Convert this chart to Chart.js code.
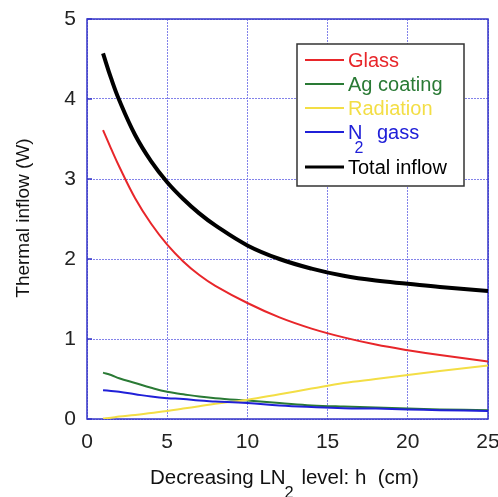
<!DOCTYPE html>
<html>
<head>
<meta charset="utf-8">
<script src="https://cdn.jsdelivr.net/npm/chart.js@4/dist/chart.umd.min.js"></script>
<style>
  html, body { margin: 0; padding: 0; background: #ffffff; }
  canvas { display: block; }
</style>
</head>
<body>
<canvas id="c" width="498" height="497"></canvas>
<script>
// Liquid-nitrogen level h (cm) at which each component was evaluated
const levels      = [1, 1.5, 2, 3, 4, 5, 6, 7, 8, 10, 12, 14, 16, 18, 20, 22, 25];
// Heat inflow components (W)
const glass       = [3.61, 3.38, 3.16, 2.76, 2.44, 2.18, 1.97, 1.80, 1.665, 1.45, 1.27, 1.13, 1.02, 0.93, 0.86, 0.80, 0.72];
const agCoating   = [0.58, 0.55, 0.51, 0.45, 0.39, 0.34, 0.31, 0.28, 0.26, 0.23, 0.20, 0.17, 0.155, 0.145, 0.13, 0.12, 0.11];
const radiation   = [0.005, 0.015, 0.03, 0.05, 0.075, 0.10, 0.13, 0.16, 0.19, 0.24, 0.31, 0.38, 0.45, 0.50, 0.55, 0.60, 0.67];
const n2Gas       = [0.36, 0.35, 0.34, 0.31, 0.28, 0.26, 0.25, 0.23, 0.22, 0.20, 0.17, 0.15, 0.135, 0.13, 0.12, 0.11, 0.10];
const totalInflow = [4.57, 4.26, 3.99, 3.55, 3.22, 2.96, 2.75, 2.57, 2.42, 2.17, 2.00, 1.88, 1.79, 1.73, 1.69, 1.65, 1.60];

const xTicks = [0, 5, 10, 15, 20, 25];
const yTicks = [0, 1, 2, 3, 4, 5];

// Legend entries: text runs [text, isSubscript], colour, line width
const legendItems = [
  { parts: [['Glass', false]],                 color: '#e8262a', width: 2 },
  { parts: [['Ag coating', false]],            color: '#2a7a35', width: 2 },
  { parts: [['Radiation', false]],             color: '#f3de45', width: 2 },
  { parts: [['N', false], ['2', true], [' gass', false]], color: '#2020d8', width: 2 },
  { parts: [['Total inflow', false]],          color: '#000000', width: 3 }
];

const FONT = '"Liberation Sans", Arial, Helvetica, sans-serif';
const GRID = '#8282ea';

function pts(ys) { return levels.map((x, i) => ({ x: x, y: ys[i] })); }

function series(label, ys, color, width, order) {
  return {
    label: label, data: pts(ys), borderColor: color, backgroundColor: color,
    borderWidth: width, pointRadius: 0, showLine: true, fill: false,
    tension: 0.4, order: order
  };
}

// Draws text made of normal and subscript runs, starting at x.
// subShift moves a subscript back under the preceding letter; subGap is the
// space left after it.
function drawRuns(ctx, parts, x, y, size, color, subShift, subDrop, subGap) {
  ctx.fillStyle = color;
  ctx.textAlign = 'left';
  ctx.textBaseline = 'middle';
  for (const [t, sub] of parts) {
    if (sub) {
      ctx.font = (size * 0.8) + 'px ' + FONT;
      const sx = x - subShift;
      ctx.fillText(t, sx, y + subDrop);
      x = Math.max(x, sx + ctx.measureText(t).width) + subGap;
    } else {
      ctx.font = size + 'px ' + FONT;
      ctx.fillText(t, x, y);
      x += ctx.measureText(t).width;
    }
  }
  return x;
}

const decorations = {
  id: 'decorations',
  beforeDatasetsDraw(chart) {
    const { ctx, chartArea: a } = chart;
    ctx.save();
    ctx.strokeStyle = '#3434c8';
    ctx.lineWidth = 1.5;
    ctx.strokeRect(a.left, a.top, a.right - a.left, a.bottom - a.top);
    // short inward tick marks on the left edge
    const ys = chart.scales.y;
    for (const v of yTicks) {
      const py = ys.getPixelForValue(v);
      ctx.beginPath();
      ctx.moveTo(a.left, py);
      ctx.lineTo(a.left + 5, py);
      ctx.stroke();
    }
    ctx.restore();
  },
  afterDraw(chart) {
    const { ctx, chartArea: a } = chart;
    ctx.save();
    // y-axis title
    ctx.translate(24, (a.top + a.bottom) / 2 - 1);
    ctx.rotate(-Math.PI / 2);
    ctx.fillStyle = '#111111';
    ctx.font = '19px ' + FONT;
    ctx.textAlign = 'center';
    ctx.textBaseline = 'middle';
    ctx.fillText('Thermal inflow (W)', 0, 0);
    ctx.restore();

    // x-axis title with subscript
    ctx.save();
    const titleParts = [['Decreasing LN', false], ['2', true], [' level: h  (cm)', false]];
    drawRuns(ctx, titleParts, 150, 478, 20.5, '#111111', 1, 15, 2);
    ctx.restore();

    // legend box
    ctx.save();
    const bx = 297, by = 44, bw = 167, bh = 142;
    ctx.fillStyle = '#ffffff';
    ctx.fillRect(bx, by, bw, bh);
    ctx.strokeStyle = '#333333';
    ctx.lineWidth = 1.5;
    ctx.strokeRect(bx, by, bw, bh);
    const rows = [60, 84, 108, 132, 167];
    legendItems.forEach((it, i) => {
      const y = rows[i];
      ctx.strokeStyle = it.color;
      ctx.lineWidth = it.width;
      ctx.beginPath();
      ctx.moveTo(305, y);
      ctx.lineTo(344, y);
      ctx.stroke();
      drawRuns(ctx, it.parts, 348, y + 1, 20, it.color, 8, 16, 8);
    });
    ctx.restore();
  }
};

new Chart(document.getElementById('c'), {
  type: 'scatter',
  data: {
    datasets: [
      series('Total inflow', totalInflow, '#000000', 4, 0),
      series('N2 gass', n2Gas, '#2020d8', 2, 1),
      series('Radiation', radiation, '#f3de45', 2, 2),
      series('Ag coating', agCoating, '#2a7a35', 2, 3),
      series('Glass', glass, '#e8262a', 2, 4)
    ]
  },
  options: {
    responsive: false,
    animation: false,
    layout: { padding: { left: 0, right: 10, top: 19, bottom: 0 } },
    plugins: { legend: { display: false }, tooltip: { enabled: false } },
    scales: {
      x: {
        type: 'linear', min: 0, max: 25,
        afterBuildTicks(s) { s.ticks = xTicks.map(v => ({ value: v })); },
        afterFit(s) { s.height = 78; s.paddingLeft = 0; s.paddingRight = 0; },
        border: { display: false, dash: [2, 1] },
        grid: { color: GRID, lineWidth: 1, drawTicks: false },
        ticks: { color: '#222222', font: { size: 21, family: FONT }, padding: 11, maxRotation: 0 }
      },
      y: {
        type: 'linear', min: 0, max: 5,
        afterBuildTicks(s) { s.ticks = yTicks.map(v => ({ value: v })); },
        afterFit(s) { s.width = 87; s.paddingTop = 0; s.paddingBottom = 0; },
        border: { display: false, dash: [2, 1] },
        grid: { color: GRID, lineWidth: 1, drawTicks: false },
        ticks: { color: '#222222', font: { size: 21, family: FONT }, padding: 11 }
      }
    }
  },
  plugins: [decorations]
});
</script>
</body>
</html>
